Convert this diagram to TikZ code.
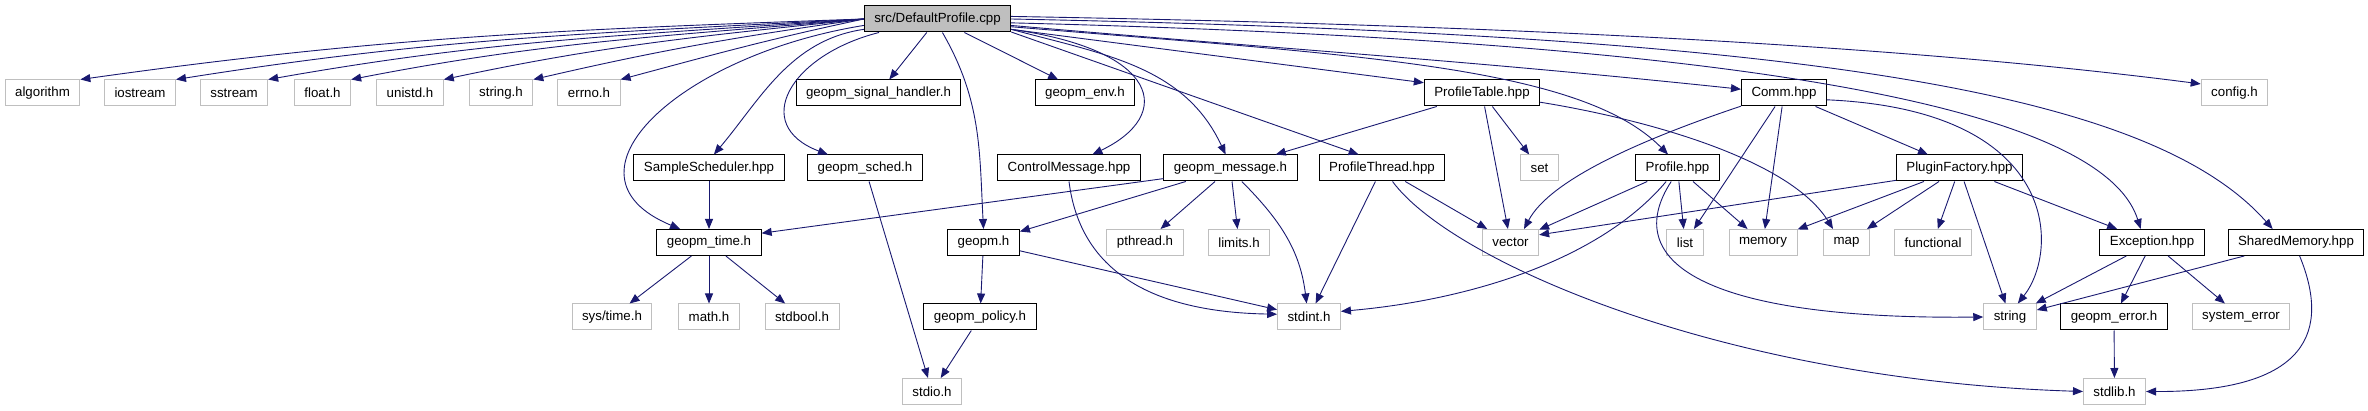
\documentclass[tikz,border=0pt]{standalone}
\usepackage{fontspec}
\setmainfont{Liberation Sans}
\usetikzlibrary{arrows.meta}
\definecolor{edgeblue}{HTML}{191970}
\definecolor{boxgray}{HTML}{BFBFBF}

\begin{document}
\begin{tikzpicture}[x=1pt,y=1pt,font=\fontsize{13.3}{15}\selectfont, >={Triangle[length=10pt,width=8pt]},
 hdr/.style={draw,line width=1pt,fill=white,minimum height=26pt,inner xsep=10pt,inner ysep=0pt},
 sys/.style={hdr,draw=boxgray},
 line/.style={->,draw=edgeblue,line width=0.9pt}]
\useasboundingbox (0,0) rectangle (2368,-411);
\node[hdr,fill=boxgray] (src) at (937.5,-19) {src/DefaultProfile.cpp};
\foreach \n/\t/\x in {alg/algorithm/42.5,iostr/iostream/140,sstr/sstream/234,floath/float.h/322.5,unistd/unistd.h/410,strh/string.h/501,errno/errno.h/589,config/config.h/2234.5}
 \node[sys] (\n) at (\x,-93) {\t};
\node[hdr] (sighand) at (878.5,-93) {geopm\_signal\_handler.h};
\node[hdr] (env) at (1085,-93) {geopm\_env.h};
\node[hdr] (ptable) at (1482,-93) {ProfileTable.hpp};
\node[hdr] (comm) at (1784,-93) {Comm.hpp};
\node[hdr] (smplsch) at (709,-168) {SampleScheduler.hpp};
\node[hdr] (gsched) at (865,-168) {geopm\_sched.h};
\node[hdr] (ctlmsg) at (1069,-168) {ControlMessage.hpp};
\node[hdr] (gmsg) at (1230.5,-168) {geopm\_message.h};
\node[hdr] (pthrd) at (1382,-168) {ProfileThread.hpp};
\node[sys] (set) at (1539.5,-168) {set};
\node[hdr] (prof) at (1677.5,-168) {Profile.hpp};
\node[hdr] (plugin) at (1959.5,-168) {PluginFactory.hpp};
\node[hdr] (gtime) at (709,-242.5) {geopm\_time.h};
\node[hdr] (gpm) at (983.5,-242.5) {geopm.h};
\foreach \n/\t/\x in {pthreadh/pthread.h/1145,limits/limits.h/1239,vector/vector/1510.5,list/list/1685,memory/memory/1763,map/map/1846.5,functional/functional/1933}
 \node[sys] (\n) at (\x,-242.5) {\t};
\node[hdr] (except) at (2152,-242.5) {Exception.hpp};
\node[hdr] (shmem) at (2296,-242.5) {SharedMemory.hpp};
\node[sys] (systime) at (612,-317) {sys/time.h};
\node[sys] (math) at (709,-317) {math.h};
\node[sys] (stdbool) at (802,-317) {stdbool.h};
\node[hdr] (policy) at (980,-317) {geopm\_policy.h};
\node[sys] (stdint) at (1309,-317) {stdint.h};
\node[sys] (string) at (2010,-317) {string};
\node[hdr] (gerror) at (2114,-317) {geopm\_error.h};
\node[sys] (syserr) at (2241,-317) {system\_error};
\node[sys] (stdio) at (932,-391.5) {stdio.h};
\node[sys] (stdlib) at (2114.5,-391.5) {stdlib.h};
\foreach \n/\o/\i in {alg/182/8,iostr/183/9,sstr/184/10,floath/185/11,unistd/186/12,strh/188/13,errno/192/15}
 \draw[line] (src.west) to[out=\o,in=\i] (\n.north east);
\foreach \a/\b in {src/sighand,src/env,ptable/gmsg,ptable/set,ptable/vector,comm/list,comm/memory,comm/plugin,plugin/memory,plugin/map,plugin/functional,plugin/string,plugin/except,except/string,except/gerror,except/syserr,shmem/string,gerror/stdlib,pthrd/vector,pthrd/stdint,gmsg/gpm,gmsg/pthreadh,gmsg/limits,gpm/stdint,gpm/policy,policy/stdio,gsched/stdio,smplsch/gtime,gtime/systime,gtime/math,gtime/stdbool,prof/vector,prof/list,prof/memory}
 \draw[line] (\a)--(\b);
\draw[line] (src.-70) to[out=-60,in=93] (gpm.north);
\draw[line] (src.-8) .. controls (1160,-50) and (1175,-115) .. (ctlmsg.30);
\draw[line] (src.-8) to[out=-15,in=115] (gmsg.110);
\draw[line] (src.-10) -- (pthrd.150);
\draw[line] (src.-8) -- (ptable.170);
\draw[line] (src.-5) to[out=-5,in=174] (comm.175);
\draw[line] (src.2) .. controls (1500,-25) and (1900,-45) .. (config.165);
\draw[line] (src.-6) .. controls (1350,-55) and (1580,-65) .. (prof.125);
\draw[line] (src.-3) .. controls (1700,-40) and (2100,-100) .. (except.130);
\draw[line] (src.0) .. controls (1800,-35) and (2150,-90) .. (shmem.150);
\draw[line] (src.193) .. controls (790,-55) and (750,-125) .. (gsched.160);
\draw[line] (src.188) .. controls (790,-40) and (760,-100) .. (smplsch.70);
\draw[line] (src.185) .. controls (680,-55) and (550,-175) .. (gtime.155);
\draw[line] (ptable.-9) .. controls (1650,-120) and (1790,-160) .. (map.135);
\draw[line] (comm.197) .. controls (1640,-140) and (1550,-180) .. (vector.45);
\draw[line] (comm.-9) .. controls (2060,-110) and (2060,-250) .. (string.60);
\draw[line] (plugin.191) -- (vector.15);
\draw[line] (shmem.-75) .. controls (2330,-330) and (2310,-392) .. (stdlib.east);
\draw[line] (pthrd.-52) .. controls (1450,-260) and (1720,-380) .. (stdlib.west);
\draw[line] (gmsg.189) -- (gtime.10);
\draw[line] (gmsg.-50) .. controls (1280,-220) and (1300,-250) .. (stdint.100);
\draw[line] (ctlmsg.south) .. controls (1080,-270) and (1150,-312) .. (stdint.175);
\draw[line] (prof.-130) .. controls (1600,-260) and (1470,-300) .. (stdint.10);
\draw[line] (prof.-115) .. controls (1620,-260) and (1700,-320) .. (string.west);
\end{tikzpicture}
\end{document}
